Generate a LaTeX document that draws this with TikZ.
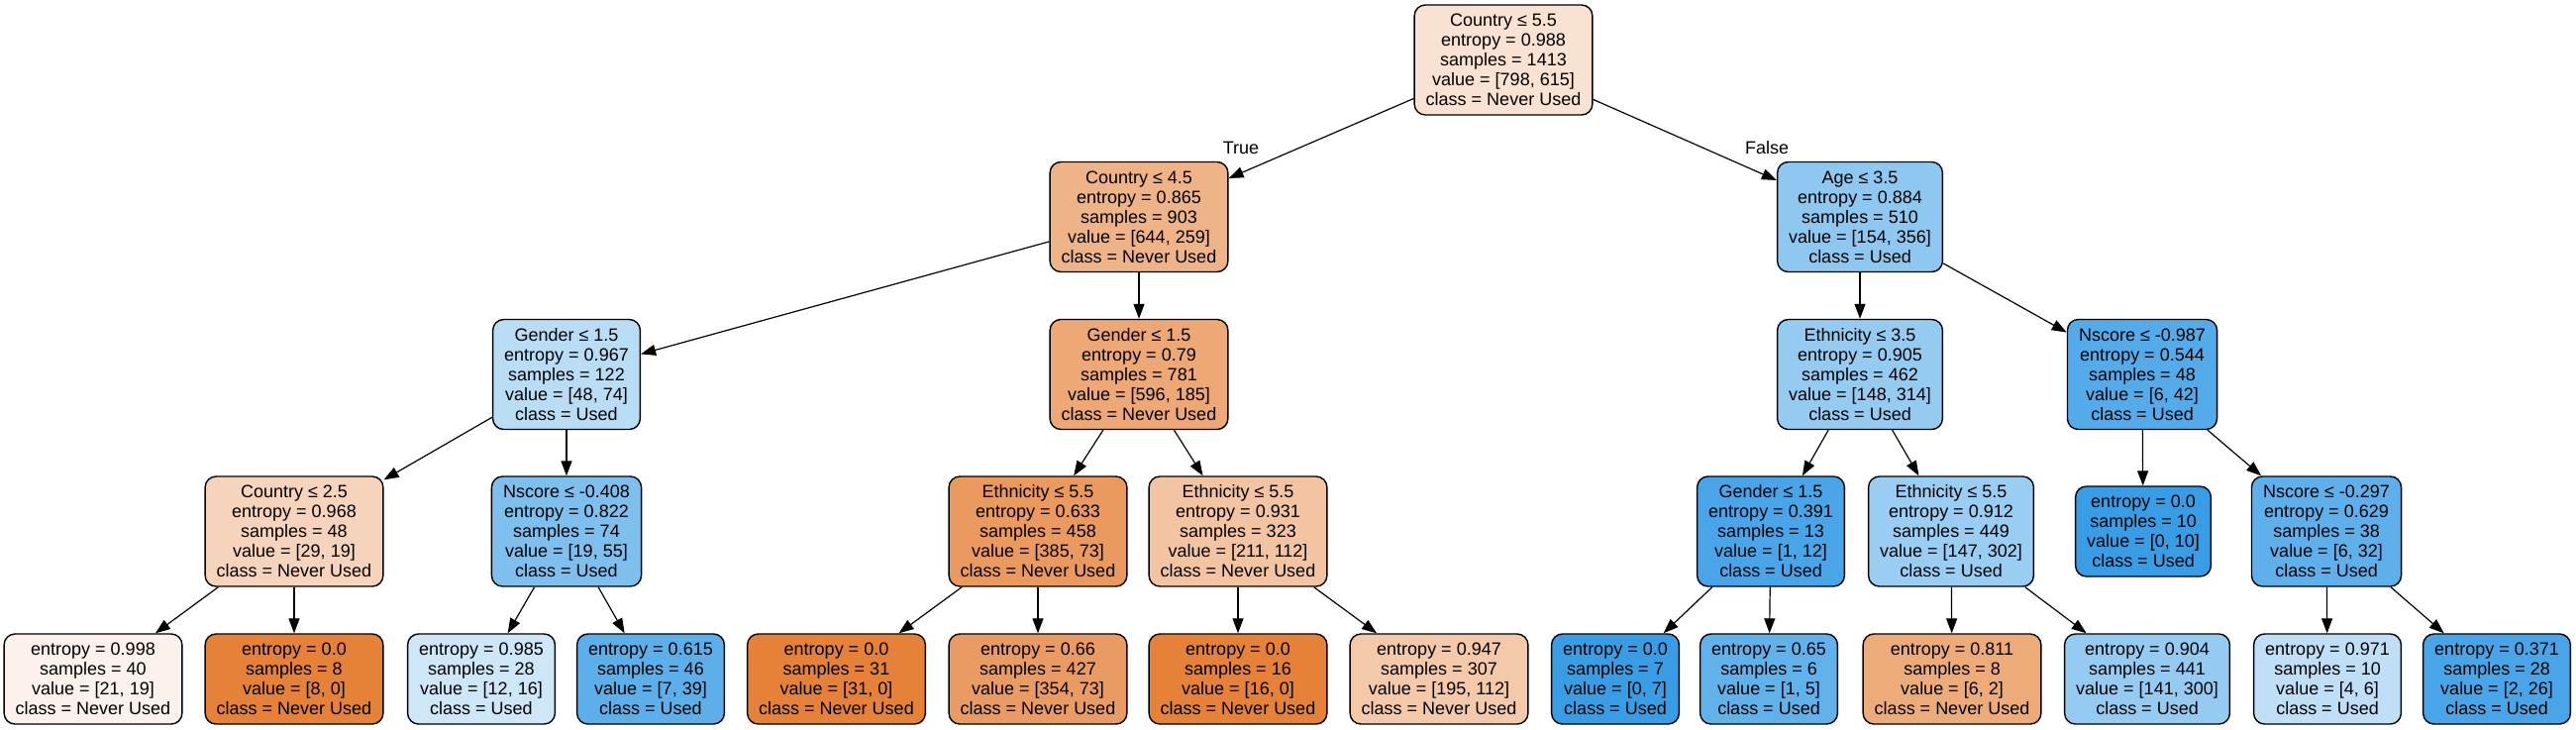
\documentclass[tikz,border=0pt]{standalone}
\usepackage{fontspec}
\setmainfont{Liberation Sans}
\usetikzlibrary{arrows.meta}
\definecolor{orng}{RGB}{229,129,57}
\definecolor{blu}{RGB}{57,157,229}
\begin{document}
\begin{tikzpicture}[x=0.5pt,y=-0.5pt,
  box/.style={draw=black, line width=0.7pt, rounded corners=5.5pt, align=center,
    font=\fontsize{9}{10}\selectfont, inner xsep=5.8pt, inner ysep=2pt},
  inode/.style={box, minimum height=55.5pt},
  leaf/.style={box, minimum height=45.5pt},
  conn/.style={draw=black, line width=0.6pt, -{Triangle[length=7.5pt,width=5.5pt]}},
  lab/.style={font=\fontsize{9}{10}\selectfont, inner sep=0pt}]
\fill[white] (0,0) rectangle (2601,736);
\useasboundingbox (0,0) rectangle (2601,736);

% level 0
\node[inode, fill=orng!23!white] (root) at (1518,60.5) {Country ≤ 5.5\\entropy = 0.988\\samples = 1413\\value = [798, 615]\\class = Never Used};
% level 1
\node[inode, fill=orng!60!white] (c45) at (1150,219) {Country ≤ 4.5\\entropy = 0.865\\samples = 903\\value = [644, 259]\\class = Never Used};
\node[inode, fill=blu!57!white] (age) at (1878,219) {Age ≤ 3.5\\entropy = 0.884\\samples = 510\\value = [154, 356]\\class = Used};
% level 2
\node[inode, fill=blu!35!white] (gL) at (572,378) {Gender ≤ 1.5\\entropy = 0.967\\samples = 122\\value = [48, 74]\\class = Used};
\node[inode, fill=orng!69!white] (gM) at (1150,378) {Gender ≤ 1.5\\entropy = 0.79\\samples = 781\\value = [596, 185]\\class = Never Used};
\node[inode, fill=blu!53!white] (e35) at (1878,378) {Ethnicity ≤ 3.5\\entropy = 0.905\\samples = 462\\value = [148, 314]\\class = Used};
\node[inode, fill=blu!86!white] (n987) at (2163,378) {Nscore ≤ -0.987\\entropy = 0.544\\samples = 48\\value = [6, 42]\\class = Used};
% level 3
\node[inode, fill=orng!34!white] (c25) at (297,536.5) {Country ≤ 2.5\\entropy = 0.968\\samples = 48\\value = [29, 19]\\class = Never Used};
\node[inode, fill=blu!65!white] (n408) at (572,536.5) {Nscore ≤ -0.408\\entropy = 0.822\\samples = 74\\value = [19, 55]\\class = Used};
\node[inode, fill=orng!81!white] (ea) at (1048,536.5) {Ethnicity ≤ 5.5\\entropy = 0.633\\samples = 458\\value = [385, 73]\\class = Never Used};
\node[inode, fill=orng!47!white] (eb) at (1250,536.5) {Ethnicity ≤ 5.5\\entropy = 0.931\\samples = 323\\value = [211, 112]\\class = Never Used};
\node[inode, fill=blu!92!white] (gR) at (1788,536.5) {Gender ≤ 1.5\\entropy = 0.391\\samples = 13\\value = [1, 12]\\class = Used};
\node[inode, fill=blu!51!white] (ec) at (1970,536.5) {Ethnicity ≤ 5.5\\entropy = 0.912\\samples = 449\\value = [147, 302]\\class = Used};
\node[leaf, fill=blu] (lt) at (2164,536.5) {entropy = 0.0\\samples = 10\\value = [0, 10]\\class = Used};
\node[inode, fill=blu!81!white] (n297) at (2349,536.5) {Nscore ≤ -0.297\\entropy = 0.629\\samples = 38\\value = [6, 32]\\class = Used};
% level 4
\node[leaf, fill=orng!10!white] (l1) at (94,685.5) {entropy = 0.998\\samples = 40\\value = [21, 19]\\class = Never Used};
\node[leaf, fill=orng] (l2) at (297,685.5) {entropy = 0.0\\samples = 8\\value = [8, 0]\\class = Never Used};
\node[leaf, fill=blu!25!white] (l3) at (486,685.5) {entropy = 0.985\\samples = 28\\value = [12, 16]\\class = Used};
\node[leaf, fill=blu!82!white] (l4) at (657,685.5) {entropy = 0.615\\samples = 46\\value = [7, 39]\\class = Used};
\node[leaf, fill=orng] (l5) at (844.5,685.5) {entropy = 0.0\\samples = 31\\value = [31, 0]\\class = Never Used};
\node[leaf, fill=orng!79!white] (l6) at (1048,685.5) {entropy = 0.66\\samples = 427\\value = [354, 73]\\class = Never Used};
\node[leaf, fill=orng] (l7) at (1250,685.5) {entropy = 0.0\\samples = 16\\value = [16, 0]\\class = Never Used};
\node[leaf, fill=orng!43!white] (l8) at (1453,685.5) {entropy = 0.947\\samples = 307\\value = [195, 112]\\class = Never Used};
\node[leaf, fill=blu] (l9) at (1631,685.5) {entropy = 0.0\\samples = 7\\value = [0, 7]\\class = Used};
\node[leaf, fill=blu!80!white] (l10) at (1786,685.5) {entropy = 0.65\\samples = 6\\value = [1, 5]\\class = Used};
\node[leaf, fill=orng!67!white] (l11) at (1971,685.5) {entropy = 0.811\\samples = 8\\value = [6, 2]\\class = Never Used};
\node[leaf, fill=blu!53!white] (l12) at (2168,685.5) {entropy = 0.904\\samples = 441\\value = [141, 300]\\class = Used};
\node[leaf, fill=blu!33!white] (l13) at (2350,685.5) {entropy = 0.971\\samples = 10\\value = [4, 6]\\class = Used};
\node[leaf, fill=blu!92!white] (l14) at (2521,685.5) {entropy = 0.371\\samples = 28\\value = [2, 26]\\class = Used};

% edge labels
\node[lab] (tlab) at (1253,149) {True};
\node[lab] (flab) at (1784,149) {False};

% connectors
\draw[conn] (root) -- (c45);
\draw[conn] (root) -- (age);
\draw[conn] (c45) -- (gL);
\draw[conn] (c45) -- (gM);
\draw[conn] (gL) -- (c25);
\draw[conn] (gL) -- (n408);
\draw[conn] (c25) -- (l1);
\draw[conn] (c25) -- (l2);
\draw[conn] (n408) -- (l3);
\draw[conn] (n408) -- (l4);
\draw[conn] (gM) -- (ea);
\draw[conn] (gM) -- (eb);
\draw[conn] (ea) -- (l5);
\draw[conn] (ea) -- (l6);
\draw[conn] (eb) -- (l7);
\draw[conn] (eb) -- (l8);
\draw[conn] (age) -- (e35);
\draw[conn] (age) -- (n987);
\draw[conn] (e35) -- (gR);
\draw[conn] (e35) -- (ec);
\draw[conn] (gR) -- (l9);
\draw[conn] (gR) -- (l10);
\draw[conn] (ec) -- (l11);
\draw[conn] (ec) -- (l12);
\draw[conn] (n987) -- (lt);
\draw[conn] (n987) -- (n297);
\draw[conn] (n297) -- (l13);
\draw[conn] (n297) -- (l14);
\end{tikzpicture}
\end{document}
